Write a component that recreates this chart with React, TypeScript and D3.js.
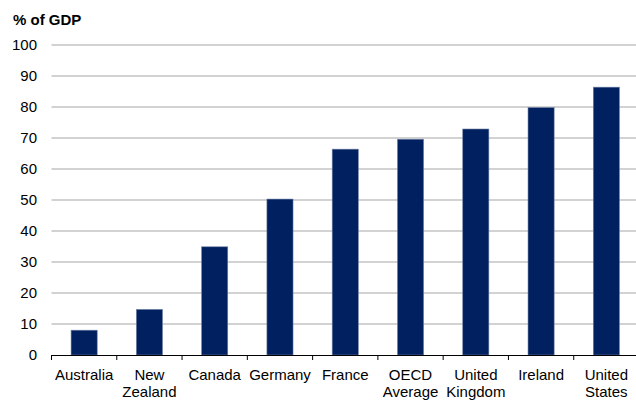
import React from "react";
import * as d3 from "d3";

const categories: string[][] = [
  ["Australia"],
  ["New", "Zealand"],
  ["Canada"],
  ["Germany"],
  ["France"],
  ["OECD", "Average"],
  ["United", "Kingdom"],
  ["Ireland"],
  ["United", "States"],
];
const values: number[] = [8, 14.7, 34.9, 50.3, 66.4, 69.6, 72.9, 79.8, 86.4];
const yTicks: number[] = [0, 10, 20, 30, 40, 50, 60, 70, 80, 90, 100];
const yTitle = "% of GDP";

const W = 636;
const H = 401;
const FONT = "'Liberation Sans', Arial, sans-serif";

export default function App() {
  const keys = categories.map((c) => c.join(" "));
  const x = d3.scaleBand<string>().domain(keys).range([51.5, 639]).paddingInner(0.6).paddingOuter(0.3);
  const band = d3.scaleBand<string>().domain(keys).range([51.5, 639]);
  const y = d3.scaleLinear().domain([0, 100]).range([355, 45]);

  return (
    <svg width={W} height={H} style={{ position: "absolute", left: 0, top: 0 }} fontFamily={FONT}>
      <rect width={W} height={H} fill="#fff" />
      <text x={13} y={25} fontSize={15} fontWeight="bold" fill="#000">{yTitle}</text>
      {yTicks.map((t) => (
        <g key={t}>
          {t > 0 && (
            <line x1={51.5} x2={W} y1={y(t)} y2={y(t)} stroke="#a6a6a6" strokeWidth={1.2} />
          )}
          <text x={37} y={y(t) + 5} fontSize={15} textAnchor="end" fill="#000">{t}</text>
        </g>
      ))}
      {values.map((v, i) => (
        <rect
          key={keys[i]}
          x={x(keys[i])!}
          y={y(v)}
          width={x.bandwidth()}
          height={y(0) - y(v)}
          fill="#002060"
          stroke="#6f7fa3"
          strokeWidth={0.6}
        />
      ))}
      <line x1={51.5} x2={W} y1={355.5} y2={355.5} stroke="#000" strokeWidth={1} />
      {keys.map((k, i) => (
        <line key={"t" + k} x1={band(k)! } x2={band(k)!} y1={355} y2={360} stroke="#000" strokeWidth={1} />
      ))}
      {categories.map((lines, i) => {
        const cx = band(keys[i])! + band.bandwidth() / 2;
        return (
          <text key={"l" + i} x={cx} y={380} fontSize={15} textAnchor="middle" fill="#000">
            {lines.map((ln, j) => (
              <tspan key={j} x={cx} dy={j === 0 ? 0 : 17}>{ln}</tspan>
            ))}
          </text>
        );
      })}
    </svg>
  );
}
